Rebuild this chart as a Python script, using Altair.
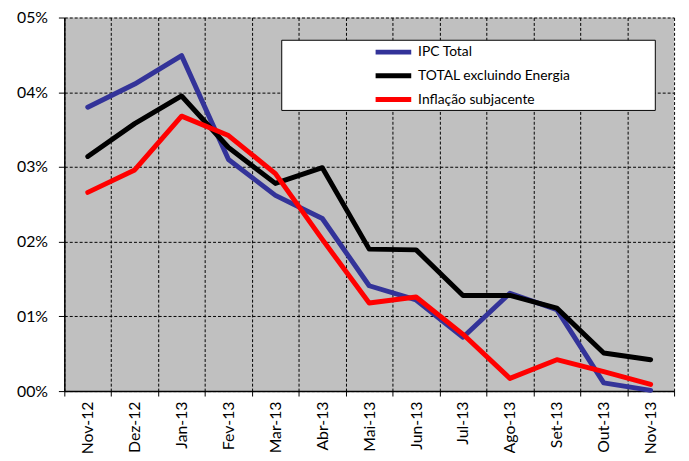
import altair as alt
import pandas as pd

months = ["Nov-12", "Dez-12", "Jan-13", "Fev-13", "Mar-13", "Abr-13", "Mai-13",
          "Jun-13", "Jul-13", "Ago-13", "Set-13", "Out-13", "Nov-13"]
ipc_total = [3.80, 4.11, 4.49, 3.10, 2.62, 2.31, 1.41, 1.22, 0.72, 1.31, 1.09, 0.11, 0.01]
total_excl_energia = [3.14, 3.58, 3.95, 3.26, 2.78, 2.99, 1.90, 1.89, 1.28, 1.28, 1.11, 0.51, 0.42]
inflacao_subjacente = [2.66, 2.96, 3.68, 3.42, 2.91, 2.03, 1.18, 1.26, 0.76, 0.17, 0.42, 0.26, 0.09]

series_names = ["IPC Total", "TOTAL excluindo Energia", "Inflação subjacente"]
series_colors = ["#333399", "#000000", "#FF0000"]
y_ticks = [0, 1, 2, 3, 4, 5]

rows = []
for name, vals in zip(series_names, [ipc_total, total_excl_energia, inflacao_subjacente]):
    for m, v in zip(months, vals):
        rows.append({"month": m, "value": v, "series": name})
df = pd.DataFrame(rows)

FONT = "Lato"

lines = alt.Chart(df).mark_line(strokeWidth=5, strokeJoin="round", strokeCap="round").encode(
    x=alt.X("month:N", sort=months, title=None,
            scale=alt.Scale(type="band", paddingInner=0, paddingOuter=0),
            bandPosition=0.5,
            axis=alt.Axis(tickBand="extent", labelAngle=-90, labelAlign="right",
                          labelBaseline="middle", labelPadding=5, tickSize=5,
                          grid=True, gridDash=[3, 2], gridColor="#000000", gridOpacity=1,
                          gridWidth=1, domainColor="#000000", domainWidth=1.5,
                          tickColor="#000000", labelFont=FONT, labelFontSize=16,
                          labelColor="#000000")),
    y=alt.Y("value:Q", title=None,
            scale=alt.Scale(domain=[0, 5], nice=False),
            axis=alt.Axis(values=y_ticks, labelExpr="'0' + datum.value + '%'",
                          grid=True, gridDash=[3, 2], gridColor="#000000", gridOpacity=1,
                          gridWidth=1, domainColor="#000000", domainWidth=1.5,
                          tickColor="#000000", tickSize=6, labelPadding=11,
                          labelFont=FONT, labelFontSize=16, labelColor="#000000")),
    color=alt.Color("series:N", sort=series_names,
                    scale=alt.Scale(domain=series_names, range=series_colors),
                    legend=alt.Legend(title=None, orient="none", legendX=312, legendY=27,
                                      symbolType="stroke", symbolStrokeWidth=5,
                                      symbolSize=1300, labelFont=FONT, labelFontSize=14,
                                      labelColor="#000000", clipHeight=16, rowPadding=8,
                                      labelOffset=4, padding=0)),
    order=alt.Order("series_order:Q"),
).transform_calculate(
    series_order="indexof(['IPC Total','TOTAL excluindo Energia','Inflação subjacente'], datum.series)"
)

legend_box = alt.Chart(pd.DataFrame({"k": [0]})).mark_rect(
    fill="#FFFFFF", stroke="#000000", strokeWidth=1
).encode(
    x=alt.value(220), x2=alt.value(598), y=alt.value(23), y2=alt.value(94)
)

chart = alt.layer(legend_box, lines).properties(
    width=617, height=378,
    autosize=alt.AutoSizeParams(type="none"),
    padding={"left": 57, "top": 7, "right": 7, "bottom": 60},
).configure(background="#FFFFFF").configure_view(fill="#C0C0C0", stroke=None)

chart.save("out.html", embed_options={"renderer": "svg", "actions": False})
